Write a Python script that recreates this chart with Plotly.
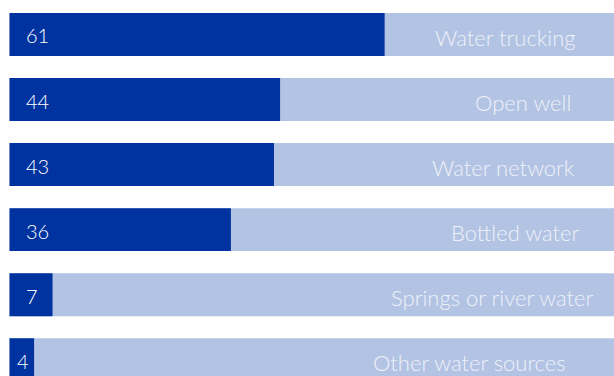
import plotly.graph_objects as go

# 水源使用比例（%）
categories = ["Water trucking", "Open well", "Water network",
              "Bottled water", "Springs or river water", "Other water sources"]
values = [61, 44, 43, 36, 7, 4]
totals = [100] * len(values)

dark_blue = "#0033a0"
light_blue = "#b3c3e3"
font_family = "Lato, 'Open Sans', sans-serif"

# 像素 -> 数据坐标（每单位约 6.15px，0 点在 9.5px）
px_per_unit = 6.15
x0_px = 9.5
def px2x(px):
    return (px - x0_px) / px_per_unit

# 标签位置（像素），原图中并不完全对齐
label_right_px = [577, 572, 576, 580, 594, 567]
number_left_px = [26, 26, 26, 26, 26, 17]

fig = go.Figure()

# 背景条（100%）
fig.add_trace(go.Bar(
    y=categories, x=totals, orientation="h",
    marker=dict(color=light_blue, line_width=0),
    width=0.66, hoverinfo="skip", showlegend=False
))

# 数值条
fig.add_trace(go.Bar(
    y=categories, x=values, orientation="h",
    marker=dict(color=dark_blue, line_width=0),
    width=0.66, showlegend=False
))

# 左侧数值 + 右侧类别标签
for cat, v, lpx, rpx in zip(categories, values, number_left_px, label_right_px):
    fig.add_annotation(
        x=px2x(lpx - 2), y=cat, text=str(v), xanchor="left", yanchor="middle",
        showarrow=False, yshift=-1,
        font=dict(family=font_family, size=20, color="white", weight=300)
    )
    fig.add_annotation(
        x=px2x(rpx + 1), y=cat, text=cat, xanchor="right", yanchor="middle",
        showarrow=False, yshift=-3,
        font=dict(family=font_family, size=22, color="#eef1f9", weight=300)
    )

fig.update_layout(
    barmode="overlay",
    width=614, height=376,
    margin=dict(l=0, r=0, t=0, b=0),
    paper_bgcolor="white",
    plot_bgcolor="white",
    xaxis=dict(range=[px2x(0), px2x(614)], visible=False, fixedrange=True),
    yaxis=dict(range=[5.25, -0.53], visible=False, fixedrange=True,
               categoryorder="array", categoryarray=categories),
)

fig.write_html(
    "out.html",
    config={"displayModeBar": False},
    post_script="document.body.style.margin='0';document.body.style.overflow='hidden';"
)
